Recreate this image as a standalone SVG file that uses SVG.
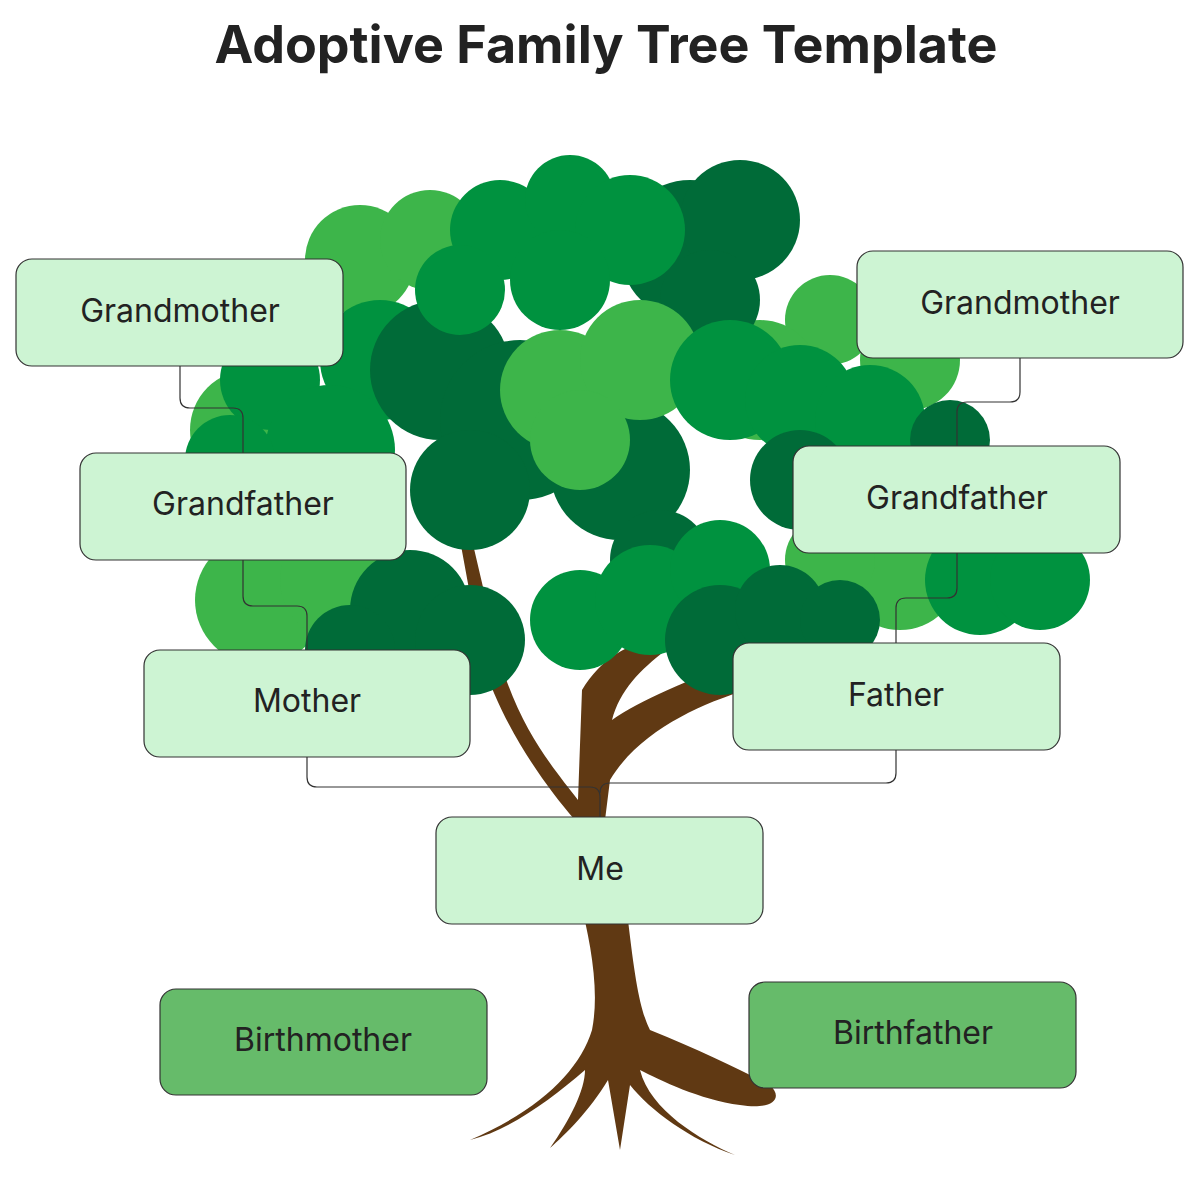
<svg xmlns="http://www.w3.org/2000/svg" width="1200" height="1195" viewBox="0 0 1200 1195">
<style>
.n{fill:#cdf4d3;stroke:#333;stroke-width:1.2}
.b{fill:#66bb6a;stroke:#333;stroke-width:1.2}
.t{font-family:Inter,"Liberation Sans",sans-serif;font-size:32px;fill:#222;text-anchor:middle;dominant-baseline:central}
.c{fill:none;stroke:#333;stroke-width:1.2}
.l{fill:#3db54a}.m{fill:#00923f}.d{fill:#006b38}.br{fill:#603913}
</style>
<rect width="1200" height="1195" fill="#fff"/>
<text x="606" y="44" font-family="Inter,'Liberation Sans',sans-serif" font-size="52" font-weight="bold" fill="#222" text-anchor="middle" dominant-baseline="central">Adoptive Family Tree Template</text>
<g id="tree">
<path class="br" d="M470,1140 C540,1110 580,1070 592,1030 C600,990 590,940 580,900 L575,820 C540,780 500,720 482,660 L460,540 L472,540 L500,660 C520,730 555,770 578,800 L582,690 C600,660 630,640 660,640 L666,650 C640,670 620,690 612,720 C640,700 690,680 740,660 L745,690 C700,705 640,730 610,780 L605,820 L628,920 C635,980 640,1010 650,1030 C700,1050 740,1070 770,1085 C785,1100 770,1110 740,1105 C700,1100 660,1080 640,1070 C650,1110 700,1140 735,1155 C690,1140 650,1110 630,1085 L620,1150 L608,1080 C590,1110 565,1135 550,1148 C570,1120 585,1090 585,1070 C550,1100 510,1130 470,1140 Z"/>
<g>
<circle class="l" cx="360" cy="260" r="55"/><circle class="l" cx="430" cy="240" r="50"/><circle class="l" cx="250" cy="430" r="60"/><circle class="l" cx="260" cy="600" r="65"/><circle class="l" cx="340" cy="580" r="60"/>
<circle class="l" cx="830" cy="320" r="45"/><circle class="l" cx="910" cy="360" r="50"/><circle class="l" cx="760" cy="380" r="60"/>
<circle class="m" cx="270" cy="380" r="50"/><circle class="m" cx="380" cy="360" r="60"/><circle class="m" cx="330" cy="450" r="65"/><circle class="m" cx="230" cy="460" r="45"/>
<circle class="d" cx="440" cy="370" r="70"/><circle class="d" cx="520" cy="420" r="80"/><circle class="d" cx="470" cy="490" r="60"/><circle class="d" cx="620" cy="470" r="70"/><circle class="d" cx="690" cy="250" r="70"/><circle class="d" cx="740" cy="220" r="60"/><circle class="d" cx="710" cy="300" r="50"/>
<circle class="m" cx="500" cy="230" r="50"/><circle class="m" cx="570" cy="200" r="45"/><circle class="m" cx="630" cy="230" r="55"/><circle class="m" cx="460" cy="290" r="45"/><circle class="m" cx="560" cy="280" r="50"/>
<circle class="l" cx="560" cy="390" r="60"/><circle class="l" cx="640" cy="360" r="60"/><circle class="l" cx="580" cy="440" r="50"/>
<circle class="m" cx="730" cy="380" r="60"/><circle class="m" cx="800" cy="400" r="55"/><circle class="m" cx="870" cy="420" r="55"/>
<circle class="d" cx="800" cy="480" r="50"/><circle class="d" cx="950" cy="440" r="40"/>
<circle class="l" cx="900" cy="570" r="60"/><circle class="m" cx="980" cy="580" r="55"/><circle class="m" cx="1040" cy="580" r="50"/><circle class="l" cx="830" cy="560" r="45"/>
<circle class="d" cx="410" cy="610" r="60"/><circle class="d" cx="470" cy="640" r="55"/><circle class="d" cx="350" cy="650" r="45"/>
<circle class="d" cx="660" cy="560" r="50"/><circle class="m" cx="580" cy="620" r="50"/><circle class="m" cx="650" cy="600" r="55"/><circle class="m" cx="720" cy="570" r="50"/>
<circle class="d" cx="720" cy="640" r="55"/><circle class="d" cx="780" cy="610" r="45"/><circle class="d" cx="840" cy="620" r="40"/>
</g>
</g>
<g id="connectors">
<path class="c" d="M180,366 V398 Q180,408 190,408 H233 Q243,408 243,418 V453"/>
<path class="c" d="M243,560 V596 Q243,606 253,606 H297 Q307,606 307,616 V650"/>
<path class="c" d="M307,757 V777 Q307,787 317,787 H590 Q600,787 600,797 V817"/>
<path class="c" d="M896,750 V773 Q896,783 886,783 H610 Q600,783 600,793"/>
<path class="c" d="M1020,358 V392 Q1020,402 1010,402 H967 Q957,402 957,412 V446"/>
<path class="c" d="M957,553 V588 Q957,598 947,598 H906 Q896,598 896,608 V643"/>
</g>
<g id="gm-l"><rect class="n" x="16" y="259" width="327" height="107" rx="16"/><text class="t" x="180" y="310">Grandmother</text></g>
<g id="gf-l"><rect class="n" x="80" y="453" width="326" height="107" rx="16"/><text class="t" x="243" y="503">Grandfather</text></g>
<g id="mother"><rect class="n" x="144" y="650" width="326" height="107" rx="16"/><text class="t" x="307" y="700">Mother</text></g>
<g id="gm-r"><rect class="n" x="857" y="251" width="326" height="107" rx="16"/><text class="t" x="1020" y="302">Grandmother</text></g>
<g id="gf-r"><rect class="n" x="793" y="446" width="327" height="107" rx="16"/><text class="t" x="957" y="497">Grandfather</text></g>
<g id="father"><rect class="n" x="733" y="643" width="327" height="107" rx="16"/><text class="t" x="896" y="694">Father</text></g>
<g id="me"><rect class="n" x="436" y="817" width="327" height="107" rx="16"/><text class="t" x="600" y="868">Me</text></g>
<g id="birthmother"><rect class="b" x="160" y="989" width="327" height="106" rx="16"/><text class="t" x="323" y="1039">Birthmother</text></g>
<g id="birthfather"><rect class="b" x="749" y="982" width="327" height="106" rx="16"/><text class="t" x="913" y="1032">Birthfather</text></g>
</svg>
